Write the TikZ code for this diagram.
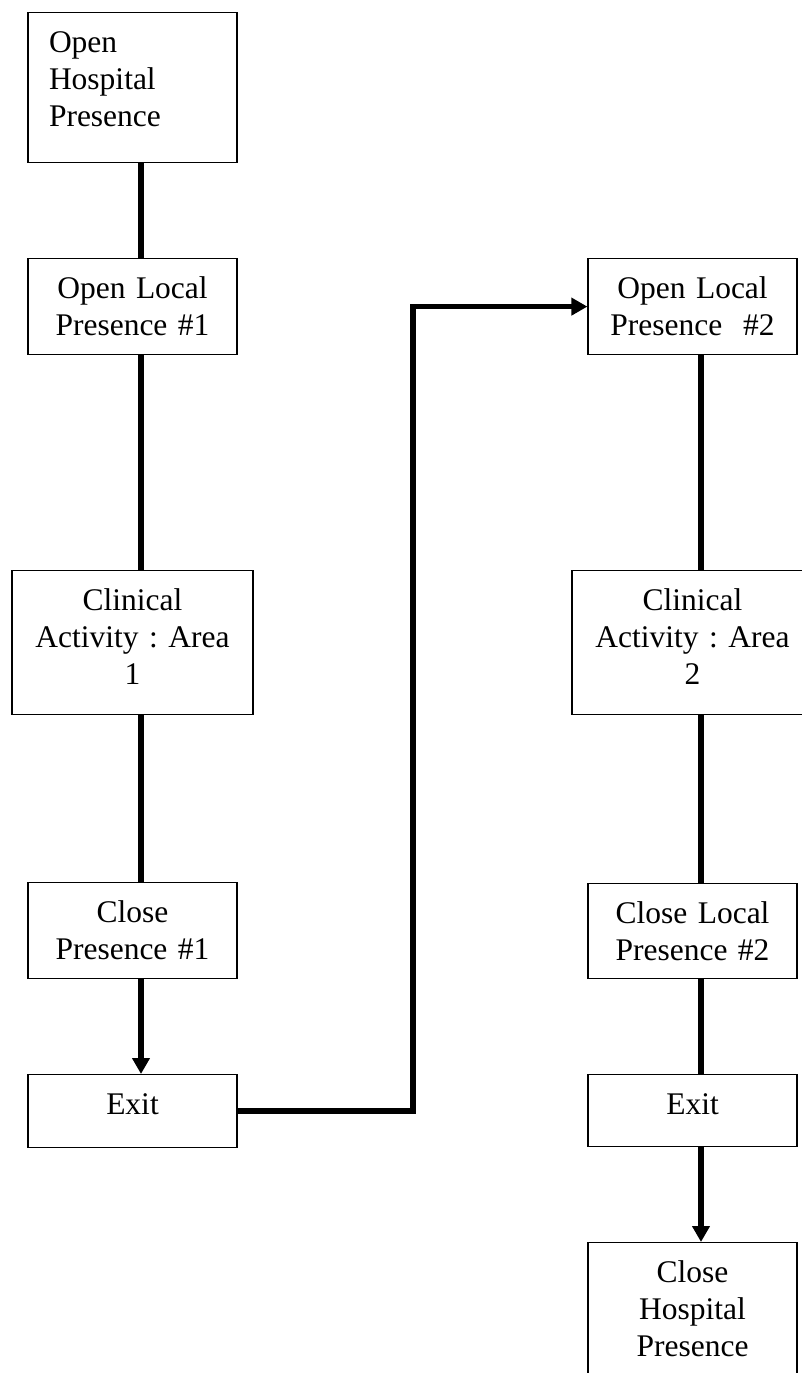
\documentclass[tikz,border=0pt]{standalone}
\usepackage{fontspec}
\setmainfont{Liberation Serif}
\usetikzlibrary{arrows.meta}
\frenchspacing

\begin{document}
\begin{tikzpicture}[
  x=1pt, y=-1pt,
  box/.style={draw,line width=1.2pt,anchor=north,inner xsep=0pt,inner ysep=0pt,text height=40pt,text width=209pt,align=center,font=\fontsize{31.5pt}{37pt}\selectfont},
  wbox/.style={box,text width=241pt},
  link/.style={line width=5.5pt},
  flow/.style={line width=5.5pt,-{Triangle[length=16pt,width=17pt]}}
]
  \useasboundingbox (0,0) rectangle (802,1373);
  \clip (0,0) rectangle (802,1373);
  % left column
  \node[box,align=left,inner xsep=21pt,text width=167pt,text depth=110pt] (hosp1) at (132.5,12) {Open\\Hospital\\Presence};
  \node[box,text depth=56pt] (open1) at (132.5,258) {Open Local\\Presence \#1};
  \node[wbox,text depth=104pt] (area1) at (132.5,570) {Clinical\\Activity : Area\\1};
  \node[box,text depth=56pt] (close1) at (132.5,882) {Close\\Presence \#1};
  \node[box,text depth=33pt] (exit1) at (132.5,1074) {Exit};
  % right column
  \node[box,text depth=56pt] (open2) at (692.5,258) {Open Local\\Presence\ \ \#2};
  \node[wbox,text depth=104pt] (area2) at (692.5,570) {Clinical\\Activity : Area\\2};
  \node[box,text depth=55pt] (close2) at (692.5,883) {Close Local\\Presence \#2};
  \node[box,text depth=32pt] (exit2) at (692.5,1074) {Exit};
  \node[box,text depth=110pt] (hosp2) at (692.5,1242) {Close\\Hospital\\Presence};
  \coordinate (turn) at (413,700);
  \draw[link] ([xshift=8.5pt]hosp1.south) -- ([xshift=8.5pt]open1.north);
  \draw[link] ([xshift=8.5pt]open1.south) -- ([xshift=8.5pt]area1.north);
  \draw[link] ([xshift=8.5pt]area1.south) -- ([xshift=8.5pt]close1.north);
  \draw[flow] ([xshift=8.5pt]close1.south) -- ([xshift=8.5pt]exit1.north);
  \draw[flow] (exit1.east) -| (turn) |- (open2.west);
  \draw[link] ([xshift=8.5pt]open2.south) -- ([xshift=8.5pt]area2.north);
  \draw[link] ([xshift=8.5pt]area2.south) -- ([xshift=8.5pt]close2.north);
  \draw[link] ([xshift=8.5pt]close2.south) -- ([xshift=8.5pt]exit2.north);
  \draw[flow] ([xshift=8.5pt]exit2.south) -- ([xshift=8.5pt]hosp2.north);
\end{tikzpicture}
\end{document}
